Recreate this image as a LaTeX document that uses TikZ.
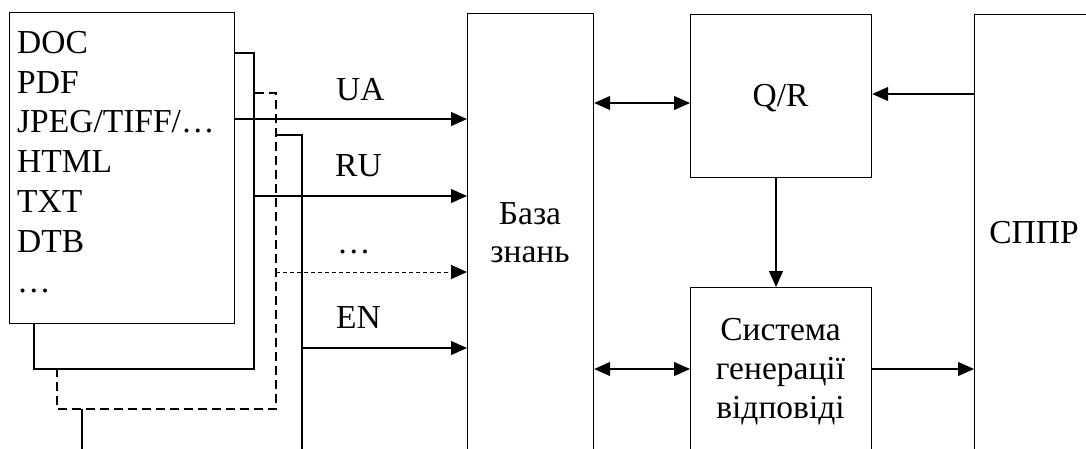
\documentclass[tikz,border=0pt]{standalone}
\usepackage{fontspec}
\setmainfont{Liberation Serif}
\usetikzlibrary{arrows.meta}
\begin{document}
\begin{tikzpicture}[x=1pt,y=-1pt,
  box/.style={draw, line width=1.2pt, rectangle, inner sep=0pt, anchor=north west},
  docline/.style={line width=2.4pt},
  docdash/.style={line width=2.4pt, dash pattern=on 9pt off 5pt},
  arr/.style={line width=1.1pt, -{Triangle[length=16pt,width=14pt]}},
  biarr/.style={line width=1.1pt, {Triangle[length=16pt,width=14pt]}-{Triangle[length=16pt,width=14pt]}},
  lbl/.style={font=\fontsize{33.5}{39.5}\selectfont, inner sep=0pt}]
\useasboundingbox (0,0) rectangle (1086,448);
\clip (0,0) rectangle (1086,448);

% stacked documents
\draw[docline] (82,409) -- (82,470);
\draw[docline] (276,135) -| (302,470);
\draw[docdash] (255,93) -| (276,409) -| (57,369);
\draw[docline] (234,53) -| (254,369) -| (34,323);
\node[box, fill=white, minimum width=225pt, minimum height=311pt] (doc) at (9,12) {};
\foreach \t [count=\i from 0] in {DOC,PDF,JPEG/TIFF/…,HTML,TXT,DTB,…}
  \node[lbl, anchor=base west] (d\i) at (17,53.3+39.8*\i) {\t};

% blocks
\node[box, minimum width=126pt, minimum height=480pt] (bz) at (467,13) {};
\node[box, minimum width=181pt, minimum height=163pt] (qr) at (690,14) {};
\node[box, minimum width=181pt, minimum height=200pt] (sys) at (690,287) {};
\node[box, minimum width=200pt, minimum height=480pt] (sppr) at (974,14) {};

\node[lbl, anchor=base] (bz1) at (530,224) {База};
\node[lbl, anchor=base] (bz2) at (530,262) {знань};
\node[lbl, anchor=base] (qrt) at (780.5,106) {Q/R};
\node[lbl, anchor=base] (sy1) at (780.5,340) {Система};
\node[lbl, anchor=base] (sy2) at (780.5,379) {генерації};
\node[lbl, anchor=base] (sy3) at (780.5,418) {відповіді};
\node[lbl, anchor=base] (spt) at (1034,243) {СППР};

% language inputs
\coordinate (s1) at (234,119);
\coordinate (s2) at (254,196);
\coordinate (s3) at (276,272);
\coordinate (s4) at (302,348);
\draw[arr] (s1) -- (bz.west |- s1);
\draw[arr] (s2) -- (bz.west |- s2);
\draw[arr, line width=0.9pt, dash pattern=on 4pt off 3pt] (s3) -- (bz.west |- s3);
\draw[arr] (s4) -- (bz.west |- s4);
\node[lbl, anchor=base west] (ua) at (336,100) {UA};
\node[lbl, anchor=base west] (ru) at (335,176) {RU};
\node[lbl, anchor=base west] (dd) at (337,253) {…};
\node[lbl, anchor=base west] (en) at (336,328) {EN};

% links
\coordinate (y1) at (0,103);
\coordinate (y2) at (0,369);
\coordinate (y3) at (0,94);
\coordinate (x1) at (776,0);
\draw[biarr] (bz.east |- y1) -- (qr.west |- y1);
\draw[biarr] (bz.east |- y2) -- (sys.west |- y2);
\draw[arr] (qr.south -| x1) -- (sys.north -| x1);
\draw[arr] (sppr.west |- y3) -- (qr.east |- y3);
\draw[arr] (sys.east |- y2) -- (sppr.west |- y2);
\end{tikzpicture}
\end{document}
